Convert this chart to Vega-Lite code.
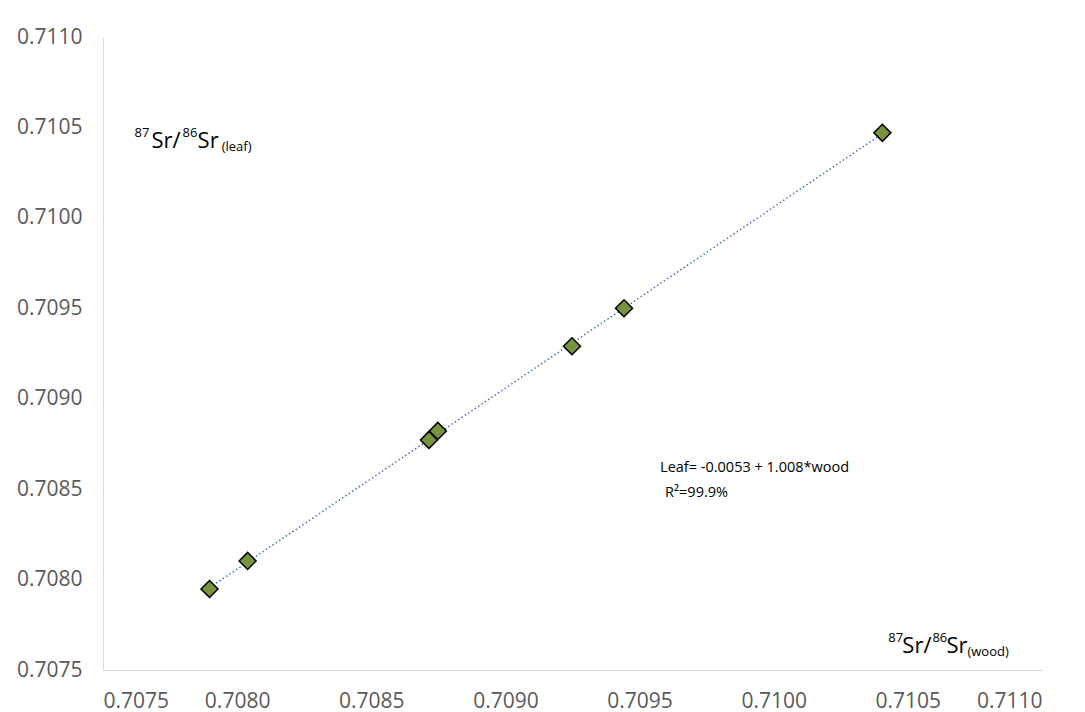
{
  "$schema": "https://vega.github.io/schema/vega-lite/v6.json",
  "width": 939,
  "height": 633,
  "autosize": {"type": "none"},
  "padding": {"left": 103, "top": 37, "right": 43, "bottom": 42},
  "background": "white",
  "config": {"view": {"stroke": null}, "font": "Open Sans"},
  "datasets": {
    "points": [
      {"wood": 0.707897, "leaf": 0.707948},
      {"wood": 0.708039, "leaf": 0.708103},
      {"wood": 0.708715, "leaf": 0.708772},
      {"wood": 0.708748, "leaf": 0.708822},
      {"wood": 0.709248, "leaf": 0.70929},
      {"wood": 0.709442, "leaf": 0.7095},
      {"wood": 0.710405, "leaf": 0.71047}
    ],
    "mainText": [
      {"x": 0.707681, "y": 0.710387, "t": "Sr/"},
      {"x": 0.7078526, "y": 0.710387, "t": "Sr"},
      {"x": 0.7104795, "y": 0.707594, "t": "Sr/"},
      {"x": 0.7106437, "y": 0.707594, "t": "Sr"}
    ],
    "supText": [
      {"x": 0.7076175, "y": 0.710448, "t": "87"},
      {"x": 0.7077966, "y": 0.710448, "t": "86"},
      {"x": 0.7104272, "y": 0.7076549, "t": "87"},
      {"x": 0.7105914, "y": 0.7076549, "t": "86"}
    ],
    "subText": [
      {"x": 0.7079422, "y": 0.710371, "t": "(leaf)"},
      {"x": 0.710722, "y": 0.7075774, "t": "(wood)"}
    ],
    "eqText": [
      {"x": 0.7095765, "y": 0.7085951, "t": "Leaf= -0.0053 + 1.008*wood"},
      {"x": 0.7095951, "y": 0.708457, "t": "R²=99.9%"}
    ]
  },
  "layer": [
    {
      "data": {"name": "points"},
      "transform": [{"regression": "leaf", "on": "wood"}],
      "mark": {"type": "line", "color": "#4472C4", "strokeWidth": 1.5, "strokeDash": [1.5, 2.5]},
      "encoding": {
        "x": {
          "field": "wood", "type": "quantitative",
          "scale": {"domain": [0.7075, 0.711], "nice": false, "zero": false},
          "axis": {
            "title": null, "values": [0.7075, 0.708, 0.7085, 0.709, 0.7095, 0.71, 0.7105, 0.711],
            "format": ".4f", "grid": false, "ticks": false, "domainColor": "#d9d9d9", "domainWidth": 1,
            "labelColor": "#595959", "labelFontSize": 21, "labelPadding": 20, "labelFont": "Open Sans"
          }
        },
        "y": {
          "field": "leaf", "type": "quantitative",
          "scale": {"domain": [0.7075, 0.711], "nice": false, "zero": false},
          "axis": {
            "title": null, "values": [0.7075, 0.708, 0.7085, 0.709, 0.7095, 0.71, 0.7105, 0.711],
            "format": ".4f", "grid": false, "ticks": false, "domainColor": "#d9d9d9", "domainWidth": 1,
            "labelColor": "#595959", "labelFontSize": 21, "labelPadding": 21, "labelFont": "Open Sans"
          }
        }
      }
    },
    {
      "data": {"name": "points"},
      "mark": {"type": "point", "shape": "diamond", "filled": true, "fill": "#77933C", "stroke": "#000000", "strokeWidth": 1.5, "size": 290, "opacity": 1},
      "encoding": {
        "x": {"field": "wood", "type": "quantitative"},
        "y": {"field": "leaf", "type": "quantitative"}
      }
    },
    {
      "data": {"name": "mainText"},
      "mark": {"type": "text", "align": "left", "baseline": "alphabetic", "fontSize": 22, "color": "#000000", "font": "Open Sans"},
      "encoding": {
        "x": {"field": "x", "type": "quantitative"},
        "y": {"field": "y", "type": "quantitative"},
        "text": {"field": "t"}
      }
    },
    {
      "data": {"name": "supText"},
      "mark": {"type": "text", "align": "left", "baseline": "alphabetic", "fontSize": 13, "color": "#000000", "font": "Open Sans"},
      "encoding": {
        "x": {"field": "x", "type": "quantitative"},
        "y": {"field": "y", "type": "quantitative"},
        "text": {"field": "t"}
      }
    },
    {
      "data": {"name": "subText"},
      "mark": {"type": "text", "align": "left", "baseline": "alphabetic", "fontSize": 13, "color": "#000000", "font": "Open Sans"},
      "encoding": {
        "x": {"field": "x", "type": "quantitative"},
        "y": {"field": "y", "type": "quantitative"},
        "text": {"field": "t"}
      }
    },
    {
      "data": {"name": "eqText"},
      "mark": {"type": "text", "align": "left", "baseline": "alphabetic", "fontSize": 14.5, "color": "#000000", "font": "Open Sans"},
      "encoding": {
        "x": {"field": "x", "type": "quantitative"},
        "y": {"field": "y", "type": "quantitative"},
        "text": {"field": "t"}
      }
    }
  ]
}
